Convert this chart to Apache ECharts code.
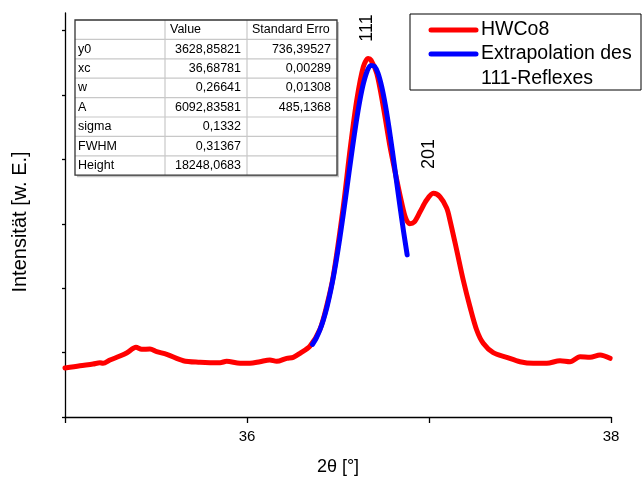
<!DOCTYPE html>
<html><head><meta charset="utf-8">
<script src="https://cdn.jsdelivr.net/npm/echarts@6/dist/echarts.min.js"></script>
<style>html,body{margin:0;padding:0;background:#fff}#c{width:642px;height:481px}</style>
</head><body><div id="c"></div>
<script>
// ---- data ----
const redX = [35.000,35.082,35.154,35.192,35.209,35.247,35.302,35.341,35.390,35.421,35.467,35.504,35.559,35.650,35.742,35.797,35.852,35.888,35.962,36.016,36.071,36.126,36.163,36.218,36.254,36.291,36.346,36.401,36.438,36.474,36.529,36.566,36.603,36.639,36.666,36.681,36.713,36.749,36.786,36.823,36.850,36.872,36.894,36.918,36.951,36.987,37.024,37.060,37.097,37.115,37.152,37.188,37.225,37.262,37.298,37.353,37.427,37.500,37.573,37.647,37.720,37.775,37.830,37.885,37.940,37.995];
const redY = [3043,3186,3292,3373,3335,3540,3789,3994,4329,4205,4223,4056,3894,3497,3397,3373,3373,3460,3335,3335,3435,3540,3460,3646,3708,3956,4400,5450,6900,8750,13062,16583,19689,21758,22279,22173,21347,19273,16788,14720,13300,12350,12000,12100,12750,13478,13894,13683,12981,12236,10372,8509,6851,5404,4578,3994,3708,3435,3335,3335,3497,3435,3745,3708,3851,3646];
const blueX = [36.36,36.38,36.40,36.42,36.44,36.46,36.48,36.50,36.52,36.54,36.56,36.58,36.60,36.62,36.64,36.66,36.68,36.70,36.72,36.74,36.76,36.78,36.80,36.82,36.84,36.86,36.88];
const blueY = [4513,4893,5397,6047,6863,7857,9034,10383,11883,13489,15146,16781,18315,19660,20738,21485,21846,21800,21352,20528,19384,17990,16426,14780,13129,11541,10072];
const xTicks = [35,36,37,38];
const xLabels = [36,38];
const yTicks = [0,4000,8000,12000,16000,20000,24000];
const seriesNames = ['HWCo8','Extrapolation des','111-Reflexes'];
const peakLabels = ['111','201'];
const tableRows = [
  ['', 'Value', 'Standard Erro'],
  ['y0','3628,85821','736,39527'],
  ['xc','36,68781','0,00289'],
  ['w','0,26641','0,01308'],
  ['A','6092,83581','485,1368'],
  ['sigma','0,1332',''],
  ['FWHM','0,31367',''],
  ['Height','18248,0683','']
];
const xTitle = '2θ [°]';
const yTitle = 'Intensität [w. E.]';

// ---- chart ----
const FONT = '"Liberation Sans", Arial, sans-serif';
const chart = echarts.init(document.getElementById('c'), null, {renderer:'canvas'});
const red = redX.map((x,i)=>[x,redY[i]]);
const blue = blueX.map((x,i)=>[x,blueY[i]]);

// table graphics
const T = {x:75, y:20, colX:[75,165,247,337], rowH:19.4};
const tblH = T.rowH*tableRows.length;
const g = [];
g.push({type:'rect', shape:{x:T.x+2,y:T.y+2,width:T.colX[3]-T.x,height:tblH}, style:{fill:'#c4c4c4'}, z:10});
g.push({type:'rect', shape:{x:T.x,y:T.y,width:T.colX[3]-T.x,height:tblH}, style:{fill:'#fff'}, z:11});
for(let r=1;r<tableRows.length;r++){
  g.push({type:'line', shape:{x1:T.x,y1:T.y+r*T.rowH,x2:T.colX[3],y2:T.y+r*T.rowH}, style:{stroke:'#c8c8c8',lineWidth:1.2}, z:12});
}
for(let c=1;c<3;c++){
  g.push({type:'line', shape:{x1:T.colX[c],y1:T.y,x2:T.colX[c],y2:T.y+tblH}, style:{stroke:'#c8c8c8',lineWidth:1.2}, z:12});
}
g.push({type:'rect', shape:{x:T.x,y:T.y,width:T.colX[3]-T.x,height:tblH}, style:{fill:null,stroke:'#333',lineWidth:1.3}, z:13});
tableRows.forEach((row,r)=>{
  const cy = T.y + r*T.rowH + T.rowH/2;
  row.forEach((txt,c)=>{
    if(!txt) return;
    let x, align;
    if(c===0){x=T.colX[0]+3; align='left';}
    else if(r===0){x=T.colX[c]+5; align='left';}
    else {x=T.colX[c+1]-6; align='right';}
    g.push({type:'text', x:x, y:cy, style:{text:txt, font:'12.5px '+FONT, fill:'#000', align:align, verticalAlign:'middle'}, z:14});
  });
});
// legend box
g.push({type:'rect', shape:{x:410,y:14,width:231,height:76}, style:{fill:'#fff',stroke:'#000',lineWidth:1}, z:10});
g.push({type:'line', shape:{x1:431,y1:30,x2:476,y2:30}, style:{stroke:'#ff0000',lineWidth:5,lineCap:'round'}, z:11});
g.push({type:'line', shape:{x1:431,y1:54,x2:476,y2:54}, style:{stroke:'#0000ff',lineWidth:5,lineCap:'round'}, z:11});
[[seriesNames[0],30],[seriesNames[1],54],[seriesNames[2],79]].forEach(([t,y])=>{
  g.push({type:'text', x:481, y:y, style:{text:t, font:'19.5px '+FONT, fill:'#000', align:'left', verticalAlign:'middle'}, z:11});
});
// peak labels
g.push({type:'text', x:367, y:28, rotation:Math.PI/2, style:{text:peakLabels[0], font:'18px '+FONT, fill:'#000', align:'center', verticalAlign:'middle'}, z:11});
g.push({type:'text', x:429, y:154, rotation:Math.PI/2, style:{text:peakLabels[1], font:'18px '+FONT, fill:'#000', align:'center', verticalAlign:'middle'}, z:11});

chart.setOption({
  animation:false,
  backgroundColor:'#fff',
  grid:{left:65, right:31, top:13, bottom:64, containLabel:false},
  xAxis:{type:'value', min:35, max:38, interval:1,
    name:xTitle, nameLocation:'middle', nameGap:41, nameTextStyle:{fontFamily:FONT, fontSize:18, color:'#000'},
    axisLine:{show:true, onZero:false, lineStyle:{color:'#000', width:1.3}},
    axisTick:{show:true, inside:false, length:6, customValues:xTicks, lineStyle:{color:'#000', width:1.3}},
    axisLabel:{show:true, margin:12, fontFamily:FONT, fontSize:15, color:'#000', showMaxLabel:true, showMinLabel:true,
      customValues:xLabels, formatter:v=>String(v)},
    splitLine:{show:false}},
  yAxis:{type:'value', min:0, max:25100, interval:4000,
    name:yTitle, nameLocation:'middle', nameGap:35, nameRotate:90,
    nameTextStyle:{fontFamily:FONT, fontSize:20, color:'#000', padding:[0,14,0,0]},
    axisLine:{show:true, onZero:false, lineStyle:{color:'#000', width:1.3}},
    axisTick:{show:true, inside:false, length:3, customValues:yTicks, lineStyle:{color:'#000', width:1.3}},
    axisLabel:{show:false},
    splitLine:{show:false}},
  series:[
    {name:seriesNames[0], type:'line', data:red, smooth:0.3, showSymbol:false, symbol:'none',
      lineStyle:{color:'#ff0000', width:5, cap:'round', join:'round'}, z:3},
    {name:seriesNames[1]+' '+seriesNames[2], type:'line', data:blue, smooth:0.3, showSymbol:false, symbol:'none',
      lineStyle:{color:'#0000ff', width:5, cap:'round', join:'round'}, z:4}
  ],
  graphic:g
});
</script></body></html>
